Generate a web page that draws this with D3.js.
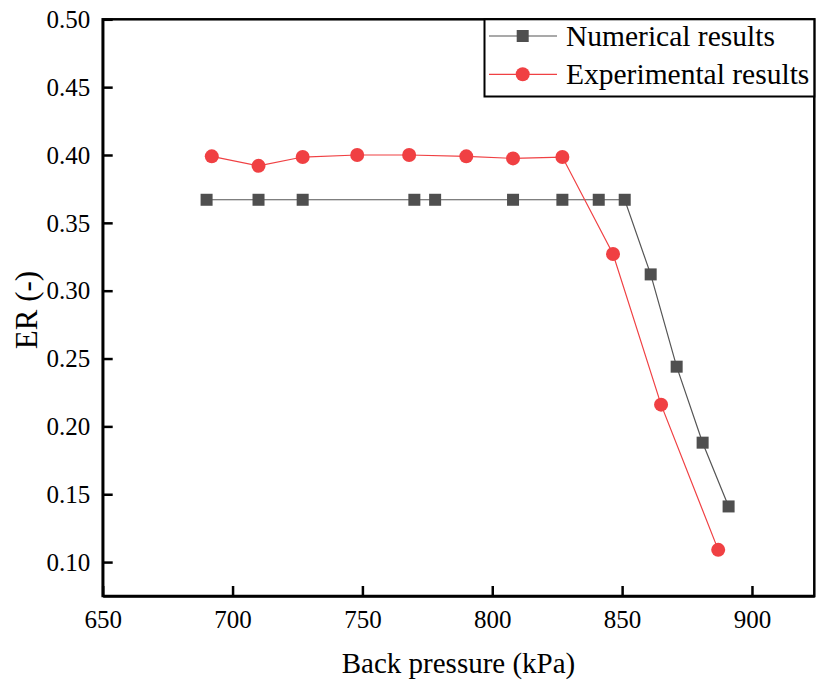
<!DOCTYPE html>
<html>
<head>
<meta charset="utf-8">
<script src="https://cdn.jsdelivr.net/npm/d3@7"></script>
<style>
  html, body { margin: 0; padding: 0; background: #fff; }
  svg { display: block; }
  svg text { font-family: "Liberation Serif", "Times New Roman", serif; }
</style>
</head>
<body>
<svg id="chart" width="817" height="683"></svg>
<script>
// ---- data ----
const numPressure = [690, 710, 727, 770, 778, 808, 827, 841, 851, 861, 871, 881, 891];
const numER       = [0.367, 0.367, 0.367, 0.367, 0.367, 0.367, 0.367, 0.367, 0.367, 0.312, 0.244, 0.188, 0.141];
const expPressure = [692, 710, 727, 748, 768, 790, 808, 827, 846.5, 865, 887];
const expER       = [0.399, 0.392, 0.3985, 0.400, 0.400, 0.399, 0.3975, 0.3985, 0.327, 0.216, 0.109];
const xTicks = [650, 700, 750, 800, 850, 900];
const yTicks = [0.10, 0.15, 0.20, 0.25, 0.30, 0.35, 0.40, 0.45, 0.50];
const seriesNames = ["Numerical results", "Experimental results"];
const xTitle = "Back pressure (kPa)";
const yTitle = "ER (-)";

// ---- layout ----
const svg = d3.select("#chart");
const pLeft = 102.7, pRight = 814.3, pTop = 19.3, pBottom = 596;
const x = d3.scaleLinear().domain([650, 924]).range([pLeft, pRight]);
const y = d3.scaleLinear().domain([0.075, 0.5]).range([pBottom, pTop]);
const serif = "'Liberation Serif', 'Times New Roman', serif";

const numColor = "#4f4f4f", numLine = "#555555";
const expColor = "#f04043";

// frame
svg.append("rect")
  .attr("x", pLeft).attr("y", pTop)
  .attr("width", pRight - pLeft).attr("height", pBottom - pTop)
  .attr("fill", "none").attr("stroke", "#000").attr("stroke-width", 2.5);

// axes
const xAxis = d3.axisBottom(x).tickValues(xTicks).tickSizeInner(-10).tickSizeOuter(0).tickPadding(18).tickFormat(d3.format("d"));
const gx = svg.append("g").attr("transform", `translate(0,${pBottom})`).call(xAxis)
  .attr("font-family", null).attr("font-size", null);
gx.select(".domain").attr("stroke-width", 2.5);
gx.selectAll(".tick line").attr("stroke-width", 2.5);
gx.selectAll(".tick text").style("font-family", serif).style("font-size", "25px").attr("fill", "#000").attr("dy", "0.55em");

const yAxis = d3.axisLeft(y).tickValues(yTicks).tickSizeInner(-10).tickSizeOuter(0).tickPadding(12.5).tickFormat(d3.format(".2f"));
const gy = svg.append("g").attr("transform", `translate(${pLeft},0)`).call(yAxis)
  .attr("font-family", null).attr("font-size", null);
gy.select(".domain").attr("stroke-width", 2.5);
gy.selectAll(".tick line").attr("stroke-width", 2.5);
gy.selectAll(".tick text").style("font-family", serif).style("font-size", "25px").attr("fill", "#000").attr("dy", "0.33em");

// axis titles
svg.append("text").attr("x", (pLeft + pRight) / 2).attr("y", 673)
  .attr("text-anchor", "middle").style("font-family", serif).style("font-size", "29px").text(xTitle);
svg.append("text").attr("transform", `translate(37,310) rotate(-90)`)
  .attr("text-anchor", "middle").style("font-family", serif).style("font-size", "31px").text(yTitle);

// series
const numData = numPressure.map((p, i) => ({p, v: numER[i]}));
const expData = expPressure.map((p, i) => ({p, v: expER[i]}));
const line = d3.line().x(d => x(d.p)).y(d => y(d.v));

svg.append("path").datum(numData).attr("d", line)
  .attr("fill", "none").attr("stroke", numLine).attr("stroke-width", 1.2);
svg.append("path").datum(expData).attr("d", line)
  .attr("fill", "none").attr("stroke", expColor).attr("stroke-width", 1.2);

const sq = 12;
svg.append("g").selectAll("rect").data(numData).join("rect")
  .attr("x", d => x(d.p) - sq / 2).attr("y", d => y(d.v) - sq / 2)
  .attr("width", sq).attr("height", sq).attr("fill", numColor);
svg.append("g").selectAll("circle").data(expData).join("circle")
  .attr("cx", d => x(d.p)).attr("cy", d => y(d.v)).attr("r", 7).attr("fill", expColor);

// legend
const lg = svg.append("g");
lg.append("rect").attr("x", 484.5).attr("y", pTop).attr("width", pRight - 484.5).attr("height", 96.5 - pTop)
  .attr("fill", "#fff").attr("stroke", "#000").attr("stroke-width", 2);
const rows = [
  {name: seriesNames[0], color: numLine, fill: numColor, shape: "square", cy: 36},
  {name: seriesNames[1], color: expColor, fill: expColor, shape: "circle", cy: 74.3}
];
rows.forEach(r => {
  lg.append("line").attr("x1", 489).attr("x2", 557).attr("y1", r.cy).attr("y2", r.cy)
    .attr("stroke", r.color).attr("stroke-width", 1.2);
  if (r.shape === "square") {
    lg.append("rect").attr("x", 522.7 - sq / 2).attr("y", r.cy - sq / 2).attr("width", sq).attr("height", sq).attr("fill", r.fill);
  } else {
    lg.append("circle").attr("cx", 522.7).attr("cy", r.cy).attr("r", 7).attr("fill", r.fill);
  }
  lg.append("text").attr("x", 566).attr("y", r.cy + 9.7).style("font-family", serif).style("font-size", "29.5px").text(r.name);
});
</script>
</body>
</html>
